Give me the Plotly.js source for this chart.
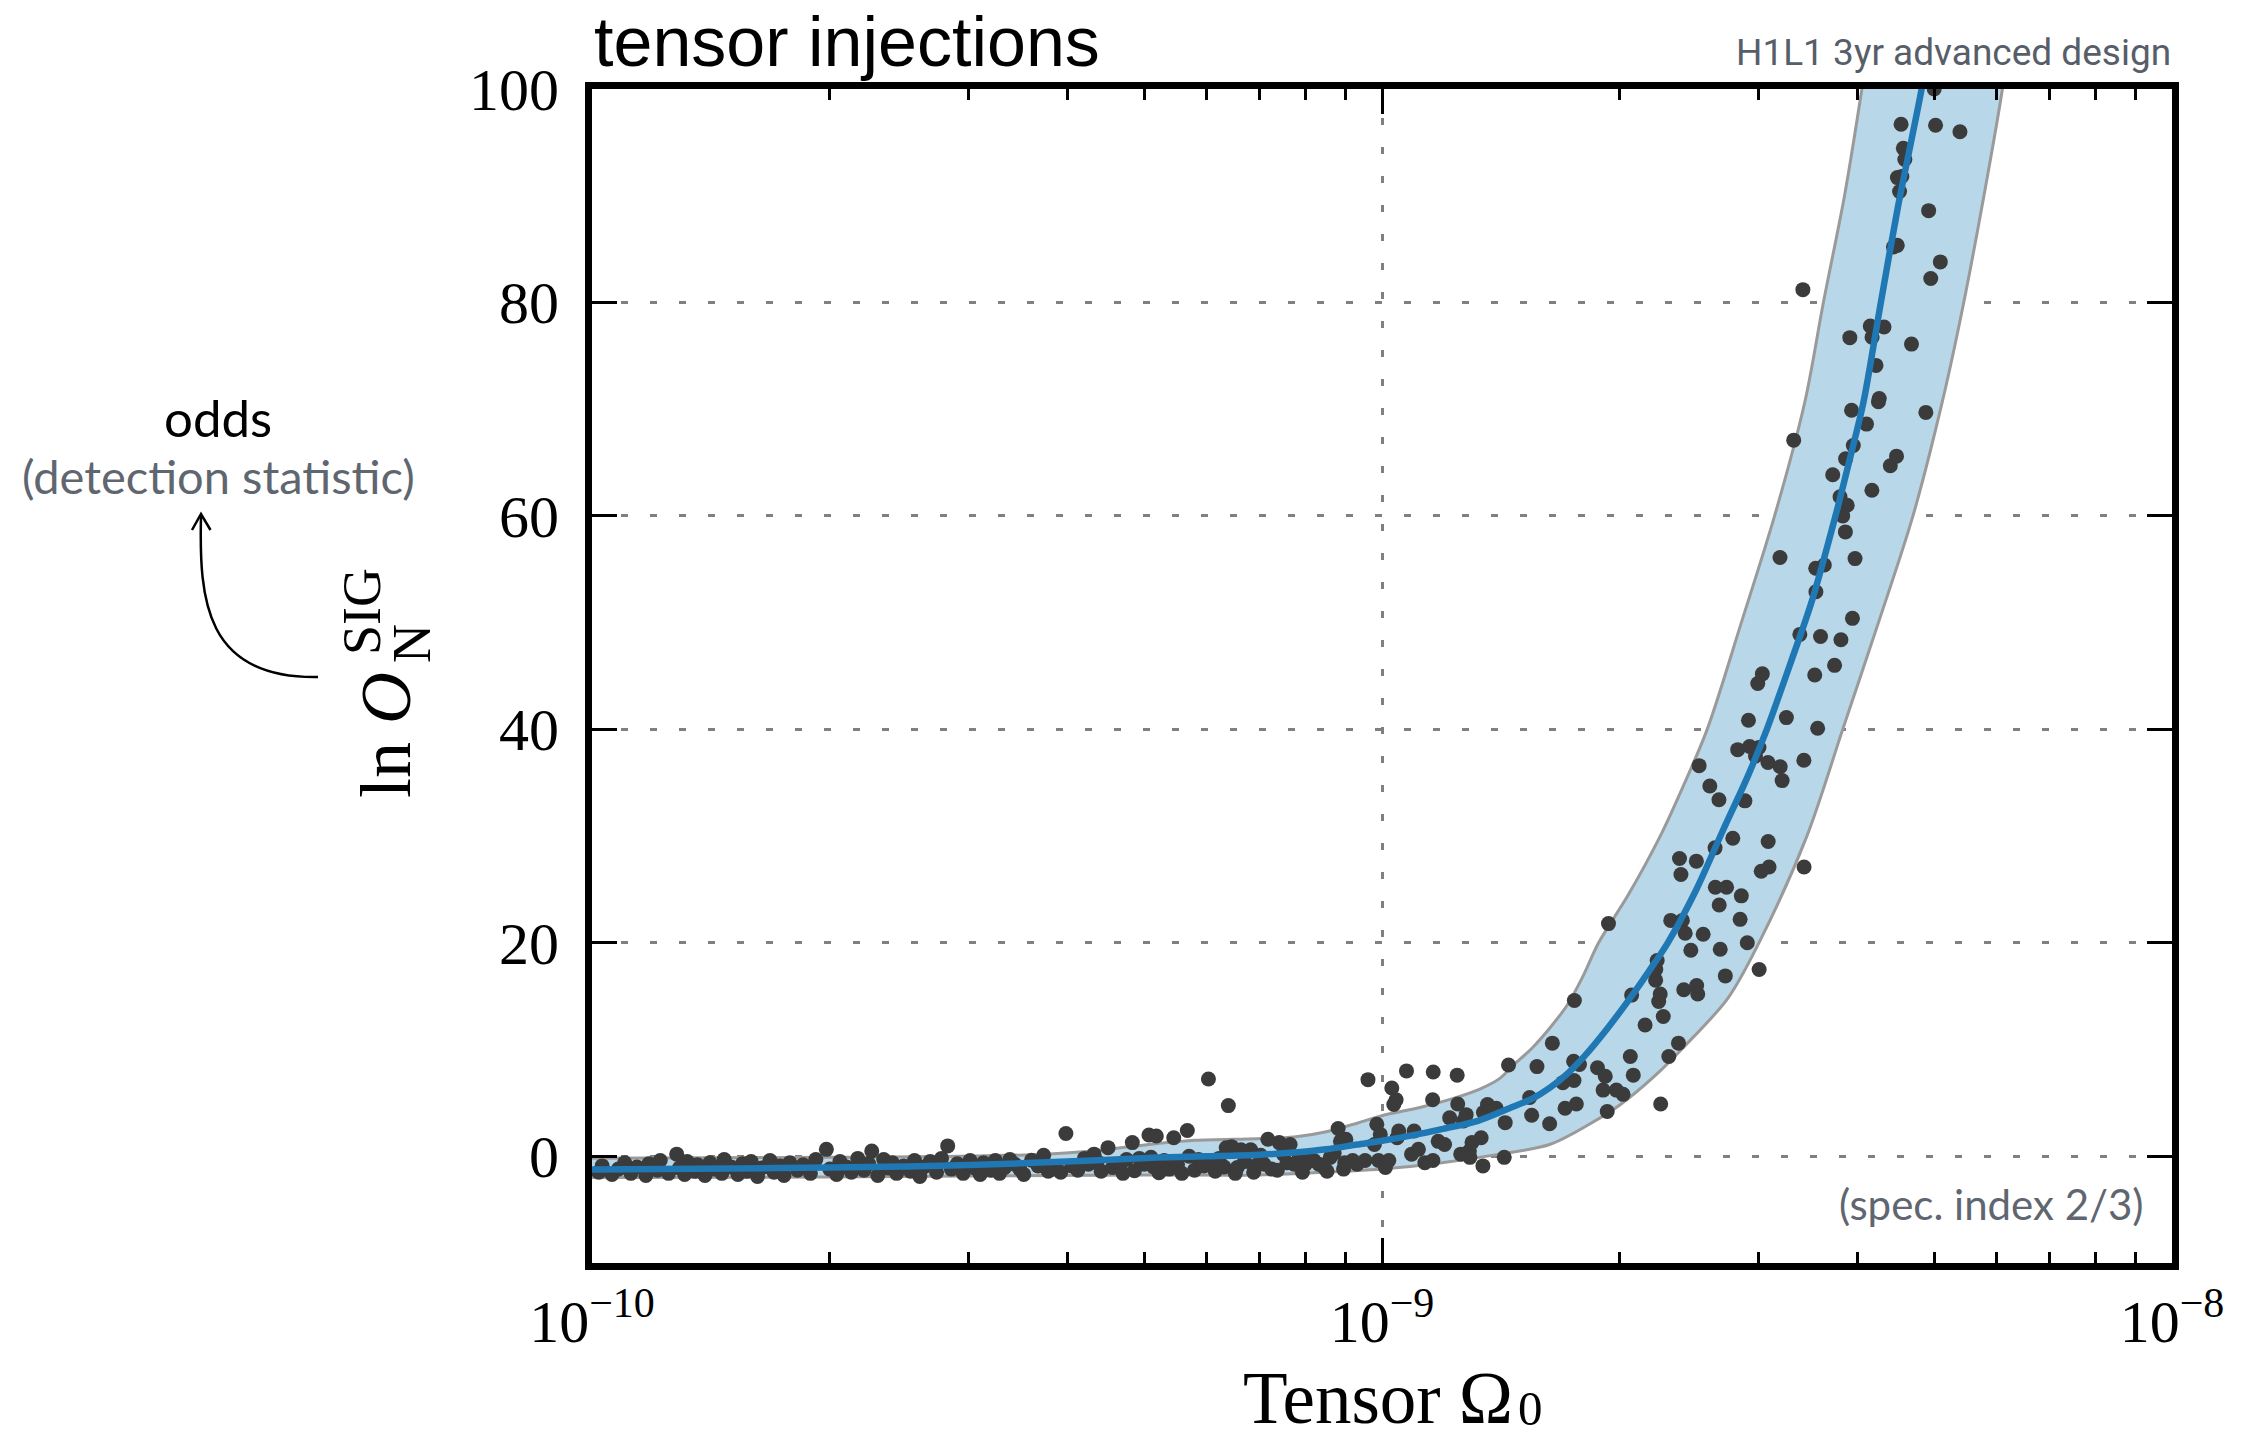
<!DOCTYPE html>
<html>
<head>
<meta charset="utf-8">
<script src="https://cdn.plot.ly/plotly-3.0.1.min.js"></script>
<style>html,body{margin:0;padding:0;background:#fff;}#chart{width:2249px;height:1443px;}</style>
</head>
<body>
<div id="chart"></div>
<script>
// ---------------- data ----------------
const xTickVals = [1e-10, 1e-9, 1e-8];
const xTickText = ['10<sup>\u221210</sup>', '10<sup>\u22129</sup>', '10<sup>\u22128</sup>'];
const xMinorTicks = [2e-10,3e-10,4e-10,5e-10,6e-10,7e-10,8e-10,9e-10,2e-9,3e-9,4e-9,5e-9,6e-9,7e-9,8e-9,9e-9];
const yTickVals = [0, 20, 40, 60, 80, 100];
const yTickText = ['0', '20', '40', '60', '80', '100'];

// median (blue line)
const lineX = [0.97e-10,1.5e-10,2e-10,2.5e-10,3e-10,4e-10,5.2e-10,6e-10,7e-10,7.74e-10,8.5e-10,9.3e-10,1.0e-9,1.1e-9,1.2e-9,1.32e-9,1.45e-9,1.55e-9,1.63e-9,1.72e-9,1.81e-9,1.93e-9,2.06e-9,2.18e-9,2.30e-9,2.5e-9,2.7e-9,2.9e-9,3.07e-9,3.3e-9,3.5e-9,3.75e-9,3.9e-9,4.07e-9,4.28e-9,4.5e-9,4.82e-9,5.08e-9];
const lineY = [-1.25,-1.15,-1.05,-0.95,-0.82,-0.5,-0.12,0.0,0.15,0.35,0.65,1.1,1.45,2.0,2.6,3.3,4.5,5.4,6.4,7.8,9.5,12,14.8,17.4,20,25,30.5,35.5,40,46.5,52,60,65,70.7,80,89,100,110];

// band: upper boundary
const upX = [0.97e-10,2.0e-10,2.94e-10,3.75e-10,4.3e-10,5.2e-10,5.8e-10,6.95e-10,7.74e-10,8.5e-10,9.3e-10,1.0e-9,1.12e-9,1.24e-9,1.33e-9,1.41e-9,1.47e-9,1.547e-9,1.63e-9,1.717e-9,1.80e-9,1.88e-9,2.05e-9,2.25e-9,2.40e-9,2.58e-9,2.85e-9,3.14e-9,3.43e-9,3.62e-9,3.85e-9,4.05e-9,4.24e-9];
const upY = [-0.2,-0.1,0.0,0.2,0.5,1.2,1.5,1.65,1.8,2.3,3.1,3.8,4.6,5.5,6.3,7.3,8.6,10.1,12.0,14.2,17,20,24.5,30,34.5,40,50,60,70.7,80,90,100,110];
// band: lower boundary
const loX = [0.97e-10,2e-10,3e-10,5e-10,7e-10,7.9e-10,1.0e-9,1.165e-9,1.41e-9,1.63e-9,1.83e-9,2.0e-9,2.22e-9,2.40e-9,2.74e-9,3.0e-9,3.45e-9,3.83e-9,4.25e-9,4.70e-9,5.12e-9,5.45e-9,5.78e-9,6.1e-9,6.36e-9];
const loY = [-2.0,-1.95,-1.85,-1.75,-1.75,-1.6,-1.2,-0.7,0.2,1.1,3.0,4.8,7.6,10.1,14.8,20,30,40,50,60,70.7,80,90,100,110];

// injections (dots)
const ptX = [
1.02e-10,1.03e-10,1.06e-10,1.08e-10,1.10e-10,1.12e-10,1.14e-10,1.17e-10,1.18e-10,1.21e-10,
1.22e-10,1.25e-10,1.28e-10,1.29e-10,1.31e-10,1.32e-10,1.35e-10,1.36e-10,1.39e-10,1.41e-10,
1.43e-10,1.46e-10,1.47e-10,1.50e-10,1.53e-10,1.55e-10,1.57e-10,1.59e-10,1.62e-10,1.64e-10,
1.68e-10,1.70e-10,1.73e-10,1.75e-10,1.78e-10,1.82e-10,1.85e-10,1.89e-10,1.92e-10,1.98e-10,
2.00e-10,2.04e-10,2.06e-10,2.10e-10,2.13e-10,2.17e-10,2.21e-10,2.24e-10,2.26e-10,2.30e-10,
2.34e-10,2.37e-10,2.40e-10,2.43e-10,2.48e-10,2.53e-10,2.56e-10,2.60e-10,2.63e-10,2.68e-10,
2.73e-10,2.77e-10,2.82e-10,2.85e-10,2.90e-10,2.95e-10,3.01e-10,3.05e-10,3.10e-10,3.13e-10,
3.20e-10,3.24e-10,3.28e-10,3.33e-10,3.38e-10,3.43e-10,3.48e-10,3.52e-10,3.60e-10,3.67e-10,
3.73e-10,3.78e-10,3.85e-10,3.92e-10,3.98e-10,4.05e-10,4.12e-10,4.20e-10,4.25e-10,4.32e-10,
4.36e-10,4.41e-10,4.50e-10,4.56e-10,4.63e-10,4.70e-10,4.75e-10,4.83e-10,4.86e-10,4.93e-10,
5.00e-10,5.07e-10,5.10e-10,5.14e-10,5.18e-10,5.22e-10,5.30e-10,5.38e-10,5.45e-10,5.51e-10,
5.58e-10,5.67e-10,5.70e-10,5.79e-10,5.86e-10,5.95e-10,6.03e-10,6.07e-10,6.15e-10,6.22e-10,
6.31e-10,6.35e-10,6.39e-10,6.45e-10,6.52e-10,6.56e-10,6.63e-10,6.70e-10,6.82e-10,6.88e-10,
6.95e-10,7.02e-10,7.09e-10,7.17e-10,7.25e-10,7.37e-10,7.41e-10,7.50e-10,7.58e-10,7.65e-10,
7.74e-10,7.85e-10,7.93e-10,8.00e-10,8.12e-10,8.20e-10,8.32e-10,8.45e-10,8.52e-10,8.60e-10,
8.70e-10,8.80e-10,8.86e-10,8.94e-10,8.97e-10,9.00e-10,9.18e-10,9.30e-10,9.52e-10,9.60e-10,
9.78e-10,9.85e-10,9.90e-10,9.95e-10,1.010e-9,1.020e-9,1.029e-9,1.035e-9,1.042e-9,1.045e-9,
1.050e-9,1.074e-9,1.090e-9,1.098e-9,1.112e-9,1.133e-9,1.159e-9,1.160e-9,1.161e-9,1.178e-9,
1.200e-9,1.218e-9,1.245e-9,1.247e-9,1.258e-9,1.268e-9,1.278e-9,1.290e-9,1.292e-9,1.300e-9,
1.335e-9,1.342e-9,1.344e-9,1.360e-9,1.395e-9,1.428e-9,1.432e-9,1.446e-9,1.538e-9,1.547e-9,
1.571e-9,1.630e-9,1.643e-9,1.694e-9,1.705e-9,1.748e-9,1.750e-9,1.752e-9,1.762e-9,1.778e-9,
1.874e-9,1.905e-9,1.917e-9,1.928e-9,1.935e-9,1.980e-9,2.019e-9,2.062e-9,2.07e-9,2.080e-9,
2.153e-9,2.22e-9,2.221e-9,2.23e-9,2.24e-9,2.25e-9,2.253e-9,2.27e-9,2.307e-9,2.32e-9,
2.373e-9,2.38e-9,2.39e-9,2.40e-9,2.41e-9,2.42e-9,2.46e-9,2.50e-9,2.502e-9,2.51e-9,
2.52e-9,2.55e-9,2.60e-9,2.64e-9,2.642e-9,2.67e-9,2.672e-9,2.68e-9,2.72e-9,2.73e-9,
2.78e-9,2.82e-9,2.84e-9,2.85e-9,2.88e-9,2.90e-9,2.91e-9,2.92e-9,2.97e-9,2.99e-9,
3.00e-9,3.002e-9,3.02e-9,3.03e-9,3.08e-9,3.082e-9,3.09e-9,3.19e-9,3.192e-9,3.21e-9,
3.25e-9,3.32e-9,3.38e-9,3.41e-9,3.42e-9,3.422e-9,3.53e-9,3.54e-9,3.542e-9,3.56e-9,
3.59e-9,3.63e-9,3.72e-9,3.74e-9,3.80e-9,3.81e-9,3.83e-9,3.86e-9,3.862e-9,3.88e-9,
3.91e-9,3.93e-9,3.94e-9,3.95e-9,3.97e-9,4.105e-9,4.15e-9,4.17e-9,4.172e-9,4.22e-9,
4.25e-9,4.26e-9,4.32e-9,4.40e-9,4.44e-9,4.48e-9,4.49e-9,4.492e-9,4.52e-9,4.54e-9,
4.55e-9,4.57e-9,4.59e-9,4.68e-9,4.88e-9,4.92e-9,4.95e-9,5.00e-9,5.02e-9,5.09e-9,
5.39e-9
];
const ptY = [
-1.5,-0.9,-1.7,-1.2,-0.6,-1.6,-1.0,-1.8,-0.7,-1.3,
-0.4,-1.6,0.2,-1.1,-1.7,-0.5,-1.4,-0.8,-1.8,-0.6,
-1.2,-1.6,-0.3,-1.0,-1.7,-0.7,-1.4,-0.5,-1.9,-1.1,
-0.4,-1.5,-0.9,-1.8,-0.6,-1.3,-0.8,-1.6,-0.3,0.65,
-1.2,-1.7,-0.5,-1.0,-1.5,-0.2,-1.3,-0.7,0.5,-1.8,
-0.3,-1.1,-0.6,-1.6,-0.9,-1.4,-0.4,-1.9,-1.0,-0.5,
-1.5,-0.2,0.97,-1.2,-0.7,-1.6,-0.4,-1.1,-1.7,-0.6,
-1.3,-0.4,-1.6,-1.05,-0.3,-0.75,-1.2,-1.7,-0.37,-0.9,
0.1,-1.4,-1.05,-1.5,2.14,-0.9,-1.3,-0.2,-0.75,0.2,
-0.5,-1.4,0.81,-1.05,-0.75,-1.6,-0.3,1.28,-1.36,-0.2,
-0.75,2.0,-0.1,-1.0,1.9,-1.55,-0.4,-1.2,1.74,-0.75,
-1.6,2.42,0.0,-1.3,-0.3,-0.9,7.24,-0.6,-1.4,-0.2,
-1.0,0.8,4.75,0.9,-1.6,-1.05,0.6,-0.5,0.6,-1.5,
-0.8,0.1,-0.75,1.6,-1.2,-1.3,1.28,0.2,-0.6,1.1,
-0.75,-0.2,-1.5,-0.75,-0.37,-0.4,-0.75,-1.05,-1.4,-0.1,
0.3,2.6,1.4,-1.2,-0.6,1.6,-0.4,-0.75,-0.4,7.18,
1.1,3.0,-0.4,2.05,-1.05,-0.4,6.4,4.85,5.3,1.74,
2.37,8.0,0.2,2.37,0.65,-0.6,5.3,-0.4,7.9,1.4,
1.1,3.6,7.6,4.9,0.2,3.3,3.9,0.5,-0.1,1.3,
1.74,-0.9,4.1,4.85,4.5,-0.1,3.15,8.55,5.5,3.85,
8.4,3.05,10.6,6.9,4.5,8.9,7.1,14.6,4.9,8.6,
8.3,6.2,7.5,4.2,21.8,6.2,5.8,9.35,15.1,7.6,
12.3,16.5,17.5,18.35,14.5,15.2,4.9,13.1,9.35,22.1,
10.6,27.9,26.4,22.1,15.6,20.9,19.3,27.65,16.0,15.2,
36.6,20.8,34.7,28.9,25.2,33.4,23.55,19.4,16.9,25.2,
29.8,38.1,22.2,24.4,33.3,20.0,40.85,38.4,37.5,44.3,
38.3,17.5,26.7,45.2,36.9,29.5,27.1,56.1,36.5,35.2,
41.1,67.1,48.9,81.2,37.1,27.1,45.1,55.1,52.9,40.1,
48.7,55.4,63.85,46.0,61.8,48.4,60.0,58.5,65.35,61.0,
76.7,69.9,50.4,66.6,56.0,68.6,77.8,62.4,76.75,74.1,
70.7,71.0,77.7,64.7,85.2,65.6,85.35,91.7,90.4,96.7,
91.8,94.45,93.4,76.1,69.7,88.6,82.25,100.0,96.6,83.8,
96.0
];

// ---------------- helpers for placing text (pixel -> paper) ----------------
const PL = 592, PT = 89, PW = 1580, PH = 1174;
function px(x) { return (x - PL) / PW; }
function py(y) { return (PT + PH - y) / PH; }

const bandX = upX.concat(loX.slice().reverse());
const bandY = upY.concat(loY.slice().reverse());

const traces = [
  {x: bandX, y: bandY, type: 'scatter', mode: 'lines', fill: 'toself',
   fillcolor: 'rgb(184,215,232)', line: {color: '#9a9a9a', width: 3, shape: 'spline', smoothing: 0.9},
   hoverinfo: 'skip'},
  {x: ptX, y: ptY, type: 'scatter', mode: 'markers',
   marker: {size: 15, color: '#3b3b3b', line: {width: 0}}},
  {x: lineX, y: lineY, type: 'scatter', mode: 'lines',
   line: {color: '#1f77b4', width: 6.5, shape: 'spline', smoothing: 0.8}}
];

const serif = 'Liberation Serif, Times New Roman, serif';
const gridDash = '7px,22px';

const arrowPath = 'M ' + px(318) + ',' + py(677) + ' C ' + px(205) + ',' + py(679) + ' ' +
  px(199) + ',' + py(600) + ' ' + px(201) + ',' + py(516);
const headPath = 'M ' + px(192) + ',' + py(530) + ' L ' + px(201) + ',' + py(514) + ' L ' +
  px(210.5) + ',' + py(530);

const layout = {
  width: 2249, height: 1443,
  margin: {l: PL, r: 2249 - PL - PW, t: PT, b: 1443 - PT - PH, pad: 0},
  paper_bgcolor: 'white', plot_bgcolor: 'white',
  showlegend: false,
  xaxis: {
    type: 'log', range: [-10, -8],
    tickmode: 'array', tickvals: xTickVals, ticktext: xTickText,
    ticks: 'inside', ticklen: 25, tickwidth: 3, tickcolor: 'black',
    showline: true, linewidth: 7, linecolor: 'black', mirror: 'ticks',
    showgrid: true, gridcolor: '#808080', gridwidth: 3, griddash: gridDash,
    zeroline: false,
    tickfont: {family: serif, size: 60, color: 'black'},
    ticklabelstandoff: 0,
    minor: {tickmode: 'array', tickvals: xMinorTicks, ticks: 'inside', ticklen: 11,
            tickwidth: 3, tickcolor: 'black', showgrid: false}
  },
  yaxis: {
    range: [-10, 100],
    tickmode: 'array', tickvals: yTickVals, ticktext: yTickText,
    ticks: 'inside', ticklen: 25, tickwidth: 3, tickcolor: 'black',
    showline: true, linewidth: 7, linecolor: 'black', mirror: 'ticks',
    showgrid: true, gridcolor: '#808080', gridwidth: 3, griddash: gridDash,
    zeroline: false,
    tickfont: {family: serif, size: 60, color: 'black'},
    ticklabelstandoff: 14
  },
  shapes: [
    {type: 'path', xref: 'paper', yref: 'paper', path: arrowPath,
     line: {color: 'black', width: 2.5}},
    {type: 'path', xref: 'paper', yref: 'paper', path: headPath,
     line: {color: 'black', width: 2.5}}
  ],
  annotations: [
    {text: 'tensor injections', xref: 'paper', yref: 'paper', x: px(592), y: py(42),
     xanchor: 'left', yanchor: 'middle', showarrow: false,
     font: {family: 'Liberation Sans, Arial, sans-serif', size: 70, color: 'black'}},
    {text: 'H1L1 3yr advanced design', xref: 'paper', yref: 'paper', x: px(2173), y: py(53),
     xanchor: 'right', yanchor: 'middle', showarrow: false,
     font: {family: 'Roboto, sans-serif', size: 37, color: '#575e69'}},
    {text: '(spec. index 2/3)', xref: 'paper', yref: 'paper', x: px(2146), y: py(1204),
     xanchor: 'right', yanchor: 'middle', showarrow: false,
     font: {family: 'Lato, sans-serif', size: 42, color: '#5f6670'}},
    {text: 'odds', xref: 'paper', yref: 'paper', x: px(218), y: py(417),
     xanchor: 'center', yanchor: 'middle', showarrow: false,
     font: {family: 'Lato, sans-serif', size: 51, color: 'black'}},
    {text: '(detection statistic)', xref: 'paper', yref: 'paper', x: px(218), y: py(476),
     xanchor: 'center', yanchor: 'middle', showarrow: false,
     font: {family: 'Lato, sans-serif', size: 47, color: '#5f6670'}},
    {text: 'Tensor \u03A9', xref: 'paper', yref: 'paper', x: px(1515), y: py(1398),
     xanchor: 'right', yanchor: 'middle', showarrow: false,
     font: {family: serif, size: 73, color: 'black'}},
    {text: '0', xref: 'paper', yref: 'paper', x: px(1516), y: py(1408),
     xanchor: 'left', yanchor: 'middle', showarrow: false,
     font: {family: serif, size: 49, color: 'black'}},
    {text: 'ln <i>O</i>', xref: 'paper', yref: 'paper', x: px(386), y: py(735),
     xanchor: 'center', yanchor: 'middle', textangle: -90, showarrow: false,
     font: {family: serif, size: 72, color: 'black'}},
    {text: 'SIG', xref: 'paper', yref: 'paper', x: px(362), y: py(612),
     xanchor: 'center', yanchor: 'middle', textangle: -90, showarrow: false,
     font: {family: serif, size: 54, color: 'black'}},
    {text: 'N', xref: 'paper', yref: 'paper', x: px(412), y: py(644),
     xanchor: 'center', yanchor: 'middle', textangle: -90, showarrow: false,
     font: {family: serif, size: 54, color: 'black'}}
  ]
};

Plotly.newPlot('chart', traces, layout, {staticPlot: true, displayModeBar: false});
</script>
</body>
</html>
